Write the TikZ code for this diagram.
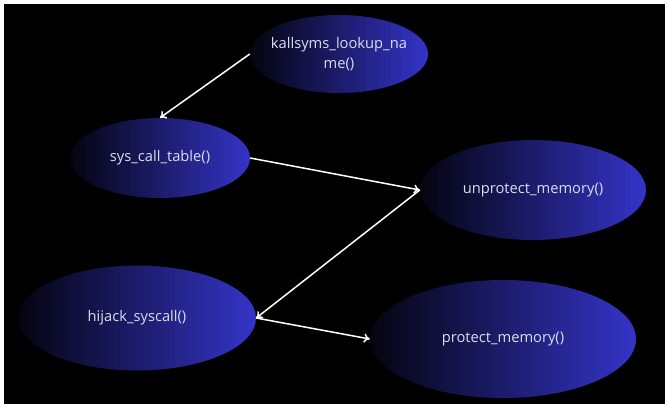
\documentclass[tikz,border=0pt]{standalone}
\usepackage{fontspec}
\setmainfont{Open Sans}
\usetikzlibrary{shapes.geometric,arrows.meta}
\definecolor{gradL}{HTML}{04040F}
\definecolor{gradR}{HTML}{3434C8}
\definecolor{txt}{HTML}{DCDCF0}
\tikzset{
  blob/.style={ellipse, inner sep=0pt, left color=gradL, right color=gradR, draw=none,
    text=txt, font=\fontsize{14.7}{20}\selectfont, align=center},
  conn/.style={draw=white, line width=1.5pt, -{To[length=6pt,width=9pt]}},
}
\begin{document}
\begin{tikzpicture}[x=1pt,y=-1pt]
\fill[white] (0,0) rectangle (668,407);
\fill[black] (4,4) rectangle (665,404);
\useasboundingbox (0,0) rectangle (668,407);
\node[blob, inner xsep=-30pt, inner ysep=-10pt, minimum width=178pt, minimum height=78pt] (k) at (339,54) {kallsyms\_lookup\_na\\me()};
\node[blob, minimum width=180pt, minimum height=80pt] (s) at (160,158) {sys\_call\_table()};
\node[blob, minimum width=226pt, minimum height=100pt] (u) at (533,190) {unprotect\_memory()};
\node[blob, minimum width=238pt, minimum height=105pt] (h) at (137,318) {hijack\_syscall()};
\node[blob, minimum width=266pt, minimum height=118pt] (p) at (503,339) {protect\_memory()};
\draw[conn] (k.west) -- (s.north);
\draw[conn] (s.east) -- (u.west);
\draw[conn] (u.west) -- (h.east);
\draw[conn] (h.east) -- (p.west);
\end{tikzpicture}
\end{document}
